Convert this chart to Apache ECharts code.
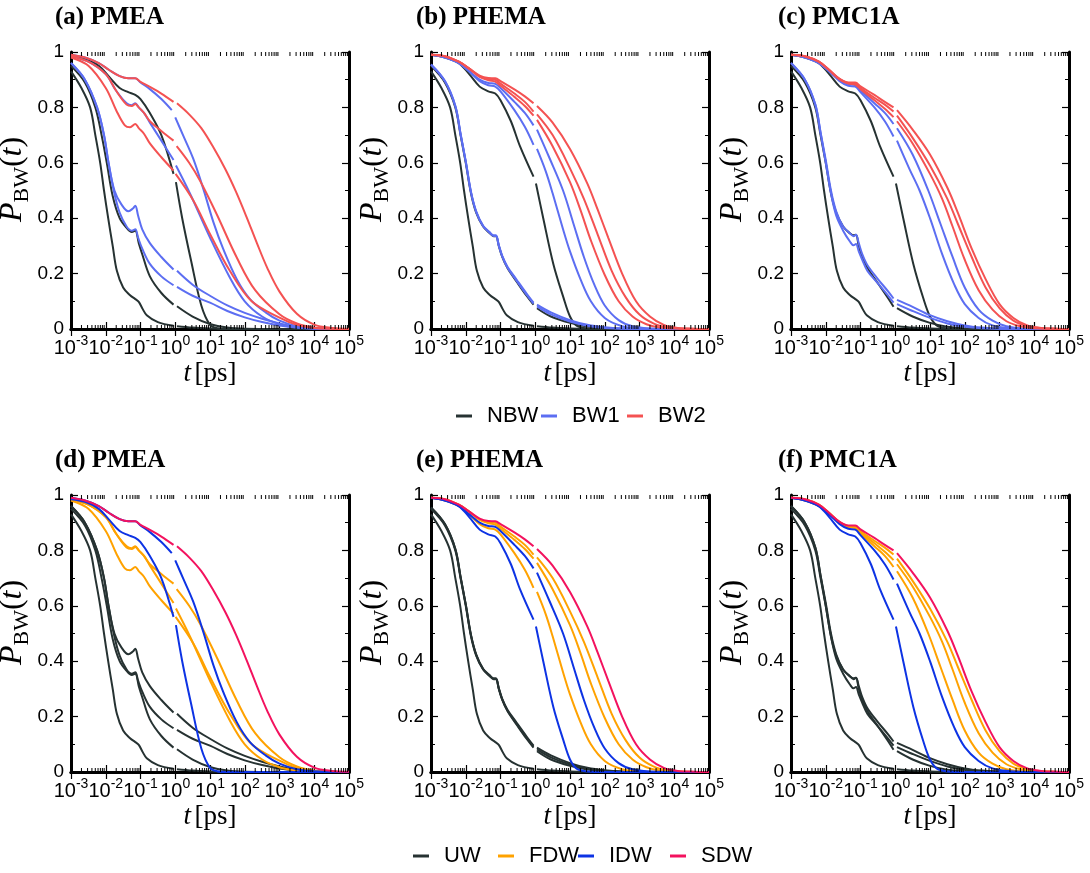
<!DOCTYPE html>
<html><head><meta charset="utf-8">
<script src="https://cdn.jsdelivr.net/npm/echarts@6/dist/echarts.min.js"></script>
<style>html,body{margin:0;padding:0;background:#fff}#c{width:1090px;height:873px}</style>
</head><body><div id="c"></div>
<script>
// Each point: [log10(t / ps), P_BW(t)]; null marks the break at t = 1 ps.
// ---------- shared fastest NBW curve ----------
const nbwFast = [[-3,0.93],[-2.7,0.87],[-2.45,0.8],[-2.3,0.7],[-2.16,0.6],[-2.05,0.5],[-1.93,0.4],[-1.8,0.3],[-1.68,0.21],[-1.5,0.15],[-1.3,0.122],[-1.15,0.108],[-1.05,0.098],[-0.95,0.075],[-0.82,0.05],[-0.5,0.025],[-0.05,0.012],null,[0.05,0.01],[0.5,0.005],[1,0.002],[1.5,0.0005],[2,0],[5,0]];

// ---------- PMEA ----------
const pmeaK2 = [[-3,0.95],[-2.6,0.89],[-2.3,0.8],[-2.12,0.7],[-1.97,0.6],[-1.8,0.48],[-1.6,0.4],[-1.4,0.365],[-1.25,0.35],[-1.15,0.355],[-1.05,0.31],[-0.95,0.27],[-0.73,0.19],[-0.4,0.13],[-0.05,0.088],null,[0.05,0.082],[0.5,0.045],[1,0.018],[1.5,0.005],[2,0.001],[3,0],[5,0]];
const pmeaK3 = [[-3,0.985],[-2.6,0.975],[-2.2,0.95],[-1.9,0.91],[-1.6,0.87],[-1.35,0.855],[-1.15,0.845],[-1.0,0.83],[-0.73,0.78],[-0.4,0.7],[-0.05,0.56],null,[0.02,0.53],[0.2,0.4],[0.45,0.25],[0.75,0.085],[1.0,0.015],[1.2,0.003],[1.5,0],[5,0]];
const pmeaB1a = [[-3,0.96],[-2.6,0.9],[-2.25,0.8],[-2.05,0.7],[-1.92,0.6],[-1.75,0.5],[-1.55,0.45],[-1.35,0.425],[-1.22,0.435],[-1.15,0.445],[-1.07,0.41],[-0.95,0.36],[-0.73,0.31],[-0.4,0.26],[-0.05,0.215],null,[0.05,0.21],[0.5,0.16],[1,0.12],[1.5,0.085],[2,0.058],[2.5,0.037],[3,0.02],[3.5,0.008],[4,0.003],[5,0]];
const pmeaB1b = [[-3,0.96],[-2.6,0.9],[-2.25,0.8],[-2.05,0.7],[-1.92,0.6],[-1.77,0.5],[-1.6,0.42],[-1.4,0.37],[-1.25,0.355],[-1.15,0.36],[-1.07,0.33],[-0.95,0.29],[-0.73,0.235],[-0.4,0.19],[-0.05,0.158],null,[0.05,0.152],[0.5,0.12],[1,0.095],[1.5,0.065],[2,0.042],[2.5,0.025],[3,0.013],[3.5,0.005],[4,0.002],[5,0]];
const pmeaB2 = [[-3,0.99],[-2.6,0.98],[-2.2,0.96],[-1.9,0.935],[-1.6,0.913],[-1.35,0.905],[-1.15,0.905],[-1.0,0.89],[-0.73,0.866],[-0.4,0.83],[-0.1,0.79],null,[0.0,0.764],[0.23,0.698],[0.52,0.614],[0.81,0.505],[1.1,0.385],[1.38,0.289],[1.77,0.18],[2.15,0.108],[2.6,0.06],[3.0,0.03],[3.5,0.01],[4,0.003],[5,0]];
const pmeaB3 = [[-3,0.985],[-2.5,0.965],[-2,0.92],[-1.7,0.86],[-1.4,0.815],[-1.25,0.808],[-1.15,0.815],[-1.05,0.8],[-0.9,0.78],[-0.73,0.745],[-0.4,0.68],[-0.05,0.61],null,[0.02,0.59],[0.42,0.49],[1.0,0.33],[1.57,0.186],[2.0,0.1],[2.5,0.045],[3.0,0.017],[3.5,0.005],[4,0.001],[5,0]];
const pmeaR1 = [[-3,0.99],[-2.6,0.98],[-2.2,0.96],[-1.9,0.935],[-1.6,0.913],[-1.35,0.905],[-1.15,0.905],[-1.0,0.892],[-0.73,0.874],[-0.4,0.85],[-0.05,0.82],null,[0.05,0.815],[0.4,0.775],[0.75,0.725],[1.1,0.655],[1.45,0.575],[1.75,0.495],[2.05,0.405],[2.35,0.31],[2.65,0.22],[3.0,0.135],[3.5,0.055],[4.0,0.016],[4.5,0.004],[5,0.001]];
const pmeaR2 = [[-3,0.985],[-2.5,0.965],[-2,0.92],[-1.7,0.86],[-1.4,0.81],[-1.25,0.805],[-1.15,0.812],[-1.05,0.8],[-0.9,0.78],[-0.73,0.75],[-0.4,0.715],[-0.05,0.68],null,[0.04,0.66],[0.4,0.6],[0.71,0.536],[1.19,0.415],[1.77,0.258],[2.3,0.14],[3.0,0.053],[3.5,0.02],[4,0.005],[4.5,0.001],[5,0]];
const pmeaR3 = [[-3,0.98],[-2.5,0.95],[-2,0.87],[-1.7,0.79],[-1.45,0.735],[-1.3,0.728],[-1.15,0.74],[-1.05,0.725],[-0.9,0.705],[-0.73,0.67],[-0.4,0.62],[-0.05,0.572],null,[0.01,0.56],[0.52,0.464],[1.0,0.343],[1.57,0.21],[2.2,0.1],[3.0,0.041],[3.5,0.015],[4,0.004],[4.5,0.001],[5,0]];

// ---------- PHEMA ----------
const phemaK2 = [[-3,0.95],[-2.6,0.89],[-2.3,0.8],[-2.15,0.7],[-2.0,0.6],[-1.85,0.49],[-1.7,0.42],[-1.5,0.37],[-1.3,0.345],[-1.2,0.335],[-1.13,0.335],[-1.05,0.3],[-0.95,0.26],[-0.8,0.22],[-0.53,0.17],[-0.25,0.12],[-0.05,0.088],null,[0.05,0.075],[0.45,0.045],[1,0.022],[1.5,0.009],[2,0.003],[3,0],[5,0]];
const phemaB1a = [[-3,0.955],[-2.6,0.895],[-2.3,0.805],[-2.15,0.705],[-2.0,0.605],[-1.85,0.495],[-1.7,0.425],[-1.5,0.373],[-1.3,0.348],[-1.2,0.338],[-1.13,0.338],[-1.05,0.303],[-0.95,0.264],[-0.8,0.225],[-0.53,0.177],[-0.25,0.128],[-0.05,0.095],null,[0.05,0.088],[0.45,0.06],[1,0.032],[1.5,0.015],[2,0.006],[2.5,0.002],[3.5,0],[5,0]];
const phemaB1b = [[-3,0.955],[-2.6,0.895],[-2.3,0.805],[-2.15,0.705],[-2.0,0.605],[-1.85,0.495],[-1.7,0.423],[-1.5,0.371],[-1.3,0.346],[-1.2,0.336],[-1.13,0.336],[-1.05,0.302],[-0.95,0.262],[-0.8,0.222],[-0.53,0.173],[-0.25,0.124],[-0.05,0.092],null,[0.05,0.082],[0.45,0.053],[1,0.027],[1.5,0.012],[2,0.004],[3,0],[5,0]];
const phemaK3 = [[-3,0.99],[-2.6,0.98],[-2.2,0.96],[-1.9,0.92],[-1.6,0.875],[-1.35,0.858],[-1.15,0.85],[-1.0,0.826],[-0.7,0.75],[-0.44,0.66],[-0.05,0.55],null,[0.02,0.525],[0.23,0.4],[0.52,0.235],[0.81,0.114],[1.0,0.045],[1.19,0.012],[1.5,0.002],[2,0],[5,0]];
const phemaB2 = [[-3,0.99],[-2.6,0.98],[-2.2,0.96],[-1.9,0.93],[-1.6,0.9],[-1.35,0.888],[-1.15,0.885],[-1.0,0.87],[-0.6,0.82],[-0.3,0.78],[-0.05,0.735],null,[0.05,0.72],[0.4,0.62],[0.8,0.5],[1.1,0.38],[1.4,0.26],[1.7,0.16],[2.0,0.085],[2.4,0.032],[2.8,0.01],[3.5,0.001],[5,0]];
const phemaB3 = [[-3,0.99],[-2.6,0.98],[-2.2,0.96],[-1.9,0.93],[-1.6,0.895],[-1.35,0.88],[-1.15,0.875],[-1.0,0.858],[-0.6,0.79],[-0.3,0.73],[-0.05,0.665],null,[0.05,0.65],[0.3,0.57],[0.5,0.49],[0.8,0.36],[1.0,0.28],[1.3,0.18],[1.6,0.1],[2.0,0.04],[2.5,0.01],[3,0.002],[5,0]];
const phemaR1 = [[-3,0.99],[-2.6,0.985],[-2.2,0.965],[-1.9,0.94],[-1.6,0.915],[-1.35,0.906],[-1.15,0.905],[-1.0,0.895],[-0.6,0.865],[-0.3,0.84],[-0.05,0.815],null,[0.05,0.805],[0.5,0.745],[1.0,0.65],[1.5,0.525],[1.8,0.43],[2.1,0.33],[2.5,0.2],[2.9,0.1],[3.3,0.045],[3.7,0.015],[4.1,0.004],[4.6,0.001],[5,0]];
const phemaR2 = [[-3,0.99],[-2.6,0.985],[-2.2,0.965],[-1.9,0.94],[-1.6,0.912],[-1.35,0.902],[-1.15,0.9],[-1.0,0.886],[-0.6,0.85],[-0.3,0.82],[-0.05,0.785],null,[0.05,0.775],[0.5,0.7],[1.0,0.58],[1.4,0.47],[1.8,0.34],[2.2,0.21],[2.6,0.115],[3.0,0.052],[3.4,0.02],[3.8,0.006],[4.3,0.001],[5,0]];
const phemaR3 = [[-3,0.99],[-2.6,0.985],[-2.2,0.965],[-1.9,0.94],[-1.6,0.91],[-1.35,0.898],[-1.15,0.893],[-1.0,0.878],[-0.6,0.838],[-0.3,0.805],[-0.05,0.77],null,[0.05,0.755],[0.5,0.66],[1.0,0.53],[1.3,0.43],[1.6,0.32],[2.0,0.195],[2.4,0.1],[2.8,0.045],[3.2,0.017],[3.6,0.005],[4.2,0.001],[5,0]];

// ---------- PMC1A ----------
const pmc1aK2 = [[-3,0.95],[-2.6,0.89],[-2.3,0.8],[-2.15,0.7],[-2.0,0.6],[-1.85,0.49],[-1.7,0.42],[-1.5,0.37],[-1.3,0.345],[-1.2,0.338],[-1.13,0.34],[-1.05,0.3],[-0.95,0.26],[-0.8,0.22],[-0.5,0.165],[-0.2,0.11],[-0.05,0.08],null,[0.05,0.075],[0.5,0.045],[1,0.022],[1.5,0.008],[2,0.002],[3,0],[5,0]];
const pmc1aB1a = [[-3,0.96],[-2.6,0.9],[-2.3,0.81],[-2.15,0.71],[-2.0,0.61],[-1.85,0.5],[-1.7,0.425],[-1.5,0.37],[-1.3,0.345],[-1.2,0.335],[-1.13,0.34],[-1.05,0.31],[-0.95,0.27],[-0.8,0.23],[-0.5,0.18],[-0.2,0.135],[-0.05,0.11],null,[0.05,0.105],[0.5,0.08],[1,0.05],[1.5,0.028],[2,0.013],[2.5,0.005],[3,0.001],[4,0],[5,0]];
const pmc1aB1b = [[-3,0.96],[-2.6,0.9],[-2.3,0.81],[-2.15,0.71],[-2.0,0.6],[-1.85,0.49],[-1.7,0.41],[-1.5,0.355],[-1.3,0.315],[-1.2,0.302],[-1.13,0.307],[-1.05,0.28],[-0.95,0.25],[-0.8,0.21],[-0.5,0.165],[-0.2,0.12],[-0.05,0.095],null,[0.05,0.09],[0.5,0.065],[1,0.04],[1.5,0.02],[2,0.008],[2.5,0.003],[3.5,0],[5,0]];
const pmc1aK3 = [[-3,0.99],[-2.6,0.98],[-2.2,0.96],[-1.9,0.92],[-1.6,0.875],[-1.35,0.858],[-1.15,0.85],[-1.0,0.826],[-0.7,0.75],[-0.44,0.66],[-0.05,0.55],null,[0.02,0.525],[0.23,0.4],[0.52,0.235],[0.81,0.11],[1.0,0.045],[1.2,0.012],[1.5,0.002],[2,0],[5,0]];
const pmc1aB2 = [[-3,0.99],[-2.6,0.98],[-2.2,0.96],[-1.9,0.93],[-1.6,0.895],[-1.35,0.878],[-1.15,0.875],[-1.0,0.855],[-0.6,0.8],[-0.3,0.75],[-0.05,0.695],null,[0.05,0.68],[0.4,0.58],[0.7,0.5],[1.0,0.4],[1.35,0.27],[1.7,0.16],[2.0,0.09],[2.4,0.04],[2.8,0.013],[3.3,0.003],[4,0],[5,0]];
const pmc1aB3 = [[-3,0.99],[-2.6,0.98],[-2.2,0.96],[-1.9,0.93],[-1.6,0.9],[-1.35,0.884],[-1.15,0.88],[-1.0,0.862],[-0.6,0.815],[-0.3,0.78],[-0.05,0.74],null,[0.05,0.725],[0.5,0.63],[0.95,0.5],[1.3,0.38],[1.65,0.26],[2.0,0.15],[2.4,0.07],[2.8,0.03],[3.2,0.01],[3.7,0.002],[5,0]];
const pmc1aR1 = [[-3,0.99],[-2.6,0.985],[-2.2,0.965],[-1.9,0.935],[-1.6,0.903],[-1.35,0.89],[-1.15,0.89],[-1.0,0.876],[-0.6,0.845],[-0.3,0.82],[-0.05,0.8],null,[0.05,0.79],[0.5,0.72],[1.0,0.63],[1.5,0.51],[1.8,0.42],[2.2,0.29],[2.6,0.18],[3.0,0.09],[3.4,0.04],[3.8,0.013],[4.2,0.004],[4.7,0.001],[5,0]];
const pmc1aR2 = [[-3,0.99],[-2.6,0.985],[-2.2,0.965],[-1.9,0.935],[-1.6,0.902],[-1.35,0.888],[-1.15,0.886],[-1.0,0.87],[-0.6,0.835],[-0.3,0.81],[-0.05,0.785],null,[0.05,0.77],[0.5,0.69],[1.0,0.59],[1.5,0.47],[1.8,0.38],[2.2,0.26],[2.6,0.15],[3.0,0.075],[3.4,0.03],[3.8,0.01],[4.2,0.003],[5,0]];
const pmc1aR3 = [[-3,0.99],[-2.6,0.985],[-2.2,0.965],[-1.9,0.935],[-1.6,0.901],[-1.35,0.886],[-1.15,0.882],[-1.0,0.866],[-0.6,0.826],[-0.3,0.795],[-0.05,0.765],null,[0.05,0.75],[0.5,0.67],[1.0,0.56],[1.35,0.47],[1.65,0.37],[2.0,0.25],[2.4,0.14],[2.8,0.07],[3.2,0.028],[3.6,0.01],[4.0,0.003],[5,0]];

// ---------- groupings ----------
const topGroups = {
  NBW: [[nbwFast, pmeaK2, pmeaK3], [nbwFast, phemaK2, phemaK3], [nbwFast, pmc1aK2, pmc1aK3]],
  BW1: [[pmeaB1a, pmeaB1b, pmeaB2, pmeaB3], [phemaB1a, phemaB1b, phemaB2, phemaB3], [pmc1aB1a, pmc1aB1b, pmc1aB2, pmc1aB3]],
  BW2: [[pmeaR1, pmeaR2, pmeaR3], [phemaR1, phemaR2, phemaR3], [pmc1aR1, pmc1aR2, pmc1aR3]]
};
const bottomGroups = {
  UW:  [[nbwFast, pmeaK2, pmeaB1a, pmeaB1b], [nbwFast, phemaK2, phemaB1a, phemaB1b], [nbwFast, pmc1aK2, pmc1aB1a, pmc1aB1b]],
  FDW: [[pmeaB3, pmeaR2, pmeaR3], [phemaB3, phemaR2, phemaR3], [pmc1aB3, pmc1aR2, pmc1aR3]],
  IDW: [[pmeaK3, pmeaB2], [phemaK3, phemaB2], [pmc1aK3, pmc1aB2]],
  SDW: [[pmeaR1], [phemaR1], [pmc1aR1]]
};
const topLegend = ['NBW', 'BW1', 'BW2'];
const bottomLegend = ['UW', 'FDW', 'IDW', 'SDW'];
const panelTitles = ['(a) PMEA', '(b) PHEMA', '(c) PMC1A', '(d) PMEA', '(e) PHEMA', '(f) PMC1A'];
const yTickLabels = [0, 0.2, 0.4, 0.6, 0.8, 1];
const decades = [-3, -2, -1, 0, 1, 2, 3, 4];
const minorMultipliers = [2, 3, 4, 5, 6, 7, 8, 9];

const COLORS = {NBW:'#263232', BW1:'#5c6ef2', BW2:'#f45252', UW:'#263232', FDW:'#ffa200', IDW:'#0d33e4', SDW:'#f3125e'};

// ---------- layout ----------
const colLeft = [71, 431, 791];
const rowTop = [52, 495];
const gridW = 278, gridH = 277;
const titleLeft = [50, 411, 773];
const titleTop = [0, 443];
const topLegendLeft = [456, 541, 627];
const bottomLegendLeft = [413, 498, 578, 670];

function toData(pts) {
  return pts.map(p => p === null ? [NaN, NaN] : [Math.pow(10, p[0]), p[1]]);
}
const minorTicks = [];
decades.forEach(d => minorMultipliers.forEach(m => minorTicks.push([m * Math.pow(10, d), 0])));

const grids = [], xAxes = [], yAxes = [], series = [], titles = [];
const serif = 'Liberation Serif', sans = 'Liberation Sans';

for (let r = 0; r < 2; r++) {
  for (let c = 0; c < 3; c++) {
    const gi = r * 3 + c;
    grids.push({left: colLeft[c], top: rowTop[r], width: gridW, height: gridH, outerBoundsMode: 'none', containLabel: false});
    titles.push({text: panelTitles[gi], left: titleLeft[c], top: titleTop[r],
      textStyle: {fontFamily: serif, fontWeight: 'bold', fontSize: 25, color: '#000'}});
    const axLine = {show: true, lineStyle: {color: '#000', width: 3}};
    const tick = {show: true, inside: true, length: 7, lineStyle: {color: '#000', width: 1.2}};
    xAxes.push({
      type: 'log', logBase: 10, gridIndex: gi, min: 0.001, max: 100000, splitNumber: 8, position: 'bottom',
      axisLine: axLine, axisTick: tick, splitLine: {show: false},
      axisLabel: {margin: 7, color: '#000', fontSize: 20, fontFamily: sans,
        formatter: v => '{b|10}{s|' + Math.round(Math.log10(v)) + '}',
        rich: {b: {fontSize: 20, fontFamily: sans, color: '#000', verticalAlign: 'bottom', lineHeight: 22},
               s: {fontSize: 14, fontFamily: sans, color: '#000', verticalAlign: 'bottom', lineHeight: 14, padding: [0, 0, 10, 0]}}},
      name: '{i|t} {n|[ps]}', nameLocation: 'middle', nameGap: 31,
      nameTextStyle: {rich: {i: {fontFamily: serif, fontStyle: 'italic', fontSize: 27, color: '#000'},
                              n: {fontFamily: serif, fontSize: 27, color: '#000'}}}
    });
    xAxes.push({
      type: 'log', logBase: 10, gridIndex: gi, min: 0.001, max: 100000, splitNumber: 8, position: 'top',
      axisLine: axLine, axisTick: tick, axisLabel: {show: false}, splitLine: {show: false}
    });
    yAxes.push({
      type: 'value', gridIndex: gi, min: 0, max: 1, interval: 0.2, position: 'left',
      axisLine: axLine, axisTick: tick, splitLine: {show: false},
      minorTick: {show: true, splitNumber: 2, length: 4, lineStyle: {color: '#000', width: 1}},
      axisLabel: {margin: 7, color: '#000', fontSize: 19, fontFamily: sans,
        formatter: v => { const k = yTickLabels.findIndex(t => Math.abs(t - v) < 1e-9); return k >= 0 ? String(yTickLabels[k]) : ''; }},
      name: '{p|P}{s|BW}{n|(}{i|t}{n|)}', nameLocation: 'middle', nameRotate: 90, nameGap: 36,
      nameTextStyle: {padding: [0, 0, 0, 22], rich: {
        p: {fontFamily: serif, fontStyle: 'italic', fontSize: 32, color: '#000', verticalAlign: 'top', lineHeight: 33},
        s: {fontFamily: serif, fontSize: 22, color: '#000', verticalAlign: 'top', lineHeight: 22, padding: [15, 0, 0, 0]},
        n: {fontFamily: serif, fontSize: 32, color: '#000', verticalAlign: 'top', lineHeight: 33},
        i: {fontFamily: serif, fontStyle: 'italic', fontSize: 32, color: '#000', verticalAlign: 'top', lineHeight: 33}}}
    });
    yAxes.push({
      type: 'value', gridIndex: gi, min: 0, max: 1, interval: 0.2, position: 'right',
      axisLine: axLine, axisTick: tick, axisLabel: {show: false}, splitLine: {show: false},
      minorTick: {show: true, splitNumber: 2, length: 4, lineStyle: {color: '#000', width: 1}}
    });
    const groups = r === 0 ? topGroups : bottomGroups;
    const order = r === 0 ? topLegend : bottomLegend;
    order.forEach(name => {
      groups[name][c].forEach(curve => {
        series.push({
          type: 'line', name: name, xAxisIndex: 2 * gi, yAxisIndex: 2 * gi,
          data: toData(curve), showSymbol: false, symbol: 'none', connectNulls: false,
          smooth: 0.35, clip: true, silent: true, animation: false,
          lineStyle: {color: COLORS[name], width: 2},
          itemStyle: {color: COLORS[name]}
        });
      });
    });
    series.push({
      type: 'custom', xAxisIndex: 2 * gi, yAxisIndex: 2 * gi, data: minorTicks, silent: true, animation: false, z: 10,
      renderItem: (params, api) => {
        const t = api.value(0);
        const pb = api.coord([t, 0]);
        const pt = api.coord([t, 1]);
        return {type: 'group', children: [
          {type: 'line', shape: {x1: pb[0], y1: pb[1], x2: pb[0], y2: pb[1] - 4}, style: {stroke: '#000', lineWidth: 1}},
          {type: 'line', shape: {x1: pt[0], y1: pt[1], x2: pt[0], y2: pt[1] + 4}, style: {stroke: '#000', lineWidth: 1}}
        ]};
      }
    });
  }
}

const legendCommon = {orient: 'horizontal', icon: 'rect', itemWidth: 16, itemHeight: 3, itemGap: 0, padding: 0, selectedMode: false,
  formatter: name => '{a|' + name + '}',
  textStyle: {fontSize: 22, fontFamily: sans, color: '#000',
    rich: {a: {fontSize: 22, fontFamily: sans, color: '#000', padding: [0, 0, 0, 10]}}}};
const legends = [];
topLegend.forEach((n, k) => legends.push(Object.assign({}, legendCommon, {data: [n], left: topLegendLeft[k], top: 405})));
bottomLegend.forEach((n, k) => legends.push(Object.assign({}, legendCommon, {data: [n], left: bottomLegendLeft[k], top: 845})));

const chart = echarts.init(document.getElementById('c'), null, {renderer: 'canvas'});
chart.setOption({
  backgroundColor: '#fff',
  animation: false,
  title: titles,
  grid: grids,
  xAxis: xAxes,
  yAxis: yAxes,
  legend: legends,
  series: series
});
</script></body></html>
